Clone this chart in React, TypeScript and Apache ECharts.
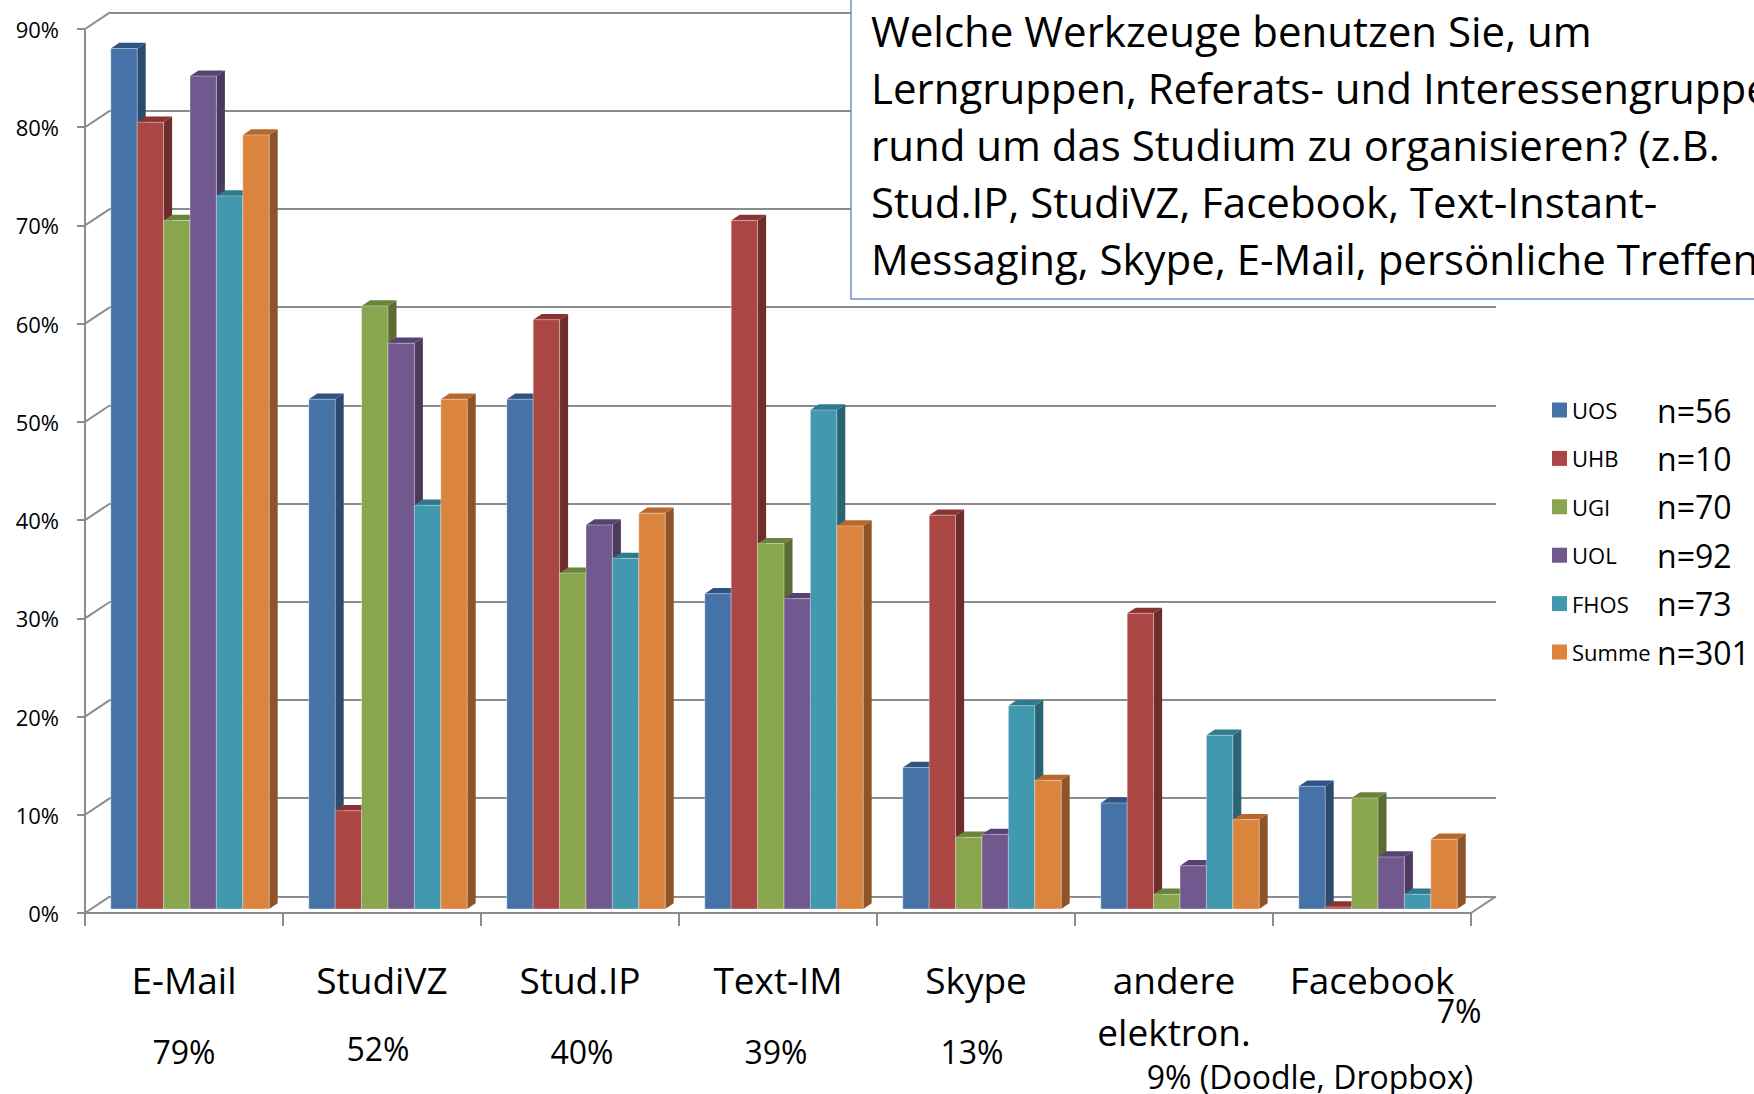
import React, { useEffect, useRef } from "react";
import * as echarts from "echarts";

const categories = ["E-Mail", "StudiVZ", "Stud.IP", "Text-IM", "Skype", "andere\nelektron.", "Facebook"];
const seriesNames = ["UOS", "UHB", "UGI", "UOL", "FHOS", "Summe"];
const sampleSizes = [56, 10, 70, 92, 73, 301];
const uos = [87.6, 51.9, 51.9, 32.1, 14.4, 10.8, 12.5];
const uhb = [80.1, 10.0, 60.0, 70.1, 40.1, 30.1, 0.2];
const ugi = [70.1, 61.4, 34.2, 37.2, 7.3, 1.5, 11.3];
const uol = [84.8, 57.6, 39.1, 31.6, 7.6, 4.4, 5.3];
const fhos = [72.6, 41.1, 35.7, 50.8, 20.7, 17.7, 1.5];
const summe = [78.8, 51.9, 40.3, 39.0, 13.1, 9.1, 7.1];
const allValues = [uos, uhb, ugi, uol, fhos, summe];
const yTicks = [0, 10, 20, 30, 40, 50, 60, 70, 80, 90];
const totalLabels = ["79%", "52%", "40%", "39%", "13%", "9% (Doodle, Dropbox)", "7%"];
const questionLines = [
  "Welche Werkzeuge benutzen Sie, um",
  "Lerngruppen, Referats- und Interessengruppe",
  "rund um das Studium zu organisieren? (z.B.",
  "Stud.IP, StudiVZ, Facebook, Text-Instant-",
  "Messaging, Skype, E-Mail, persönliche Treffen",
];

const colors = ["#4572A7", "#AA4643", "#89A54E", "#71588F", "#4198AF", "#DB843D"];
const topColors = ["#2F5384", "#8A3431", "#6A843A", "#574372", "#2E7A8E", "#B8682C"];
const sideColors = ["#2C4A6E", "#6E2C2B", "#5A6B33", "#4A3A5E", "#2A6373", "#8E5428"];

const FONT = "'Open Sans', 'Noto Sans', sans-serif";
const GRAY = "#8c8c8c";
const FRONT_DX = 6;
const FRONT_DY = -4;
const DX = 8.5;
const DY = -5.7;
const WALL_DX = 25;
const WALL_DY = -16.6;

const labelOffsets = [
  [0, 1051],
  [-4, 1048],
  [2, 1051],
  [-2, 1051],
  [-4, 1051],
  [136, 1076],
  [87, 1010],
];

function makeBarRender(s: number) {
  return (params: any, api: any) => {
    const idx = api.value(0);
    const v = api.value(1);
    const p0 = api.coord([idx, 0]);
    const p1 = api.coord([idx, v]);
    const band = api.size([1, 0])[0];
    const inner = band * 0.8;
    const w = inner / 6;
    const x = p0[0] - inner / 2 + s * w + FRONT_DX;
    const yb = p0[1] + FRONT_DY;
    const yt = p1[1] + FRONT_DY;
    return {
      type: "group",
      children: [
        {
          type: "polygon",
          shape: { points: [[x + w, yt], [x + w + DX, yt + DY], [x + w + DX, yb + DY], [x + w, yb]] },
          style: { fill: sideColors[s] },
        },
        {
          type: "polygon",
          shape: { points: [[x, yt], [x + DX, yt + DY], [x + w + DX, yt + DY], [x + w, yt]] },
          style: { fill: topColors[s] },
        },
        {
          type: "rect",
          shape: { x, y: yt, width: w, height: yb - yt },
          style: { fill: colors[s], stroke: "rgba(255,255,255,0.35)", lineWidth: 1 },
        },
      ],
    };
  };
}

function frameRender(params: any, api: any) {
  const cs = params.coordSys;
  const v = api.value(1);
  const y = api.coord([0, v])[1];
  const children: any[] = [
    {
      type: "line",
      shape: { x1: cs.x, y1: y, x2: cs.x + WALL_DX, y2: y + WALL_DY },
      style: { stroke: GRAY, lineWidth: 2 },
    },
  ];
  if (v === 0) {
    children.push({
      type: "line",
      shape: { x1: cs.x + cs.width, y1: y, x2: cs.x + cs.width + WALL_DX, y2: y + WALL_DY },
      style: { stroke: GRAY, lineWidth: 2 },
    });
  }
  return { type: "group", children };
}

export default function App() {
  const ref = useRef<HTMLDivElement>(null);
  useEffect(() => {
    if (!ref.current) return;
    const chart = echarts.init(ref.current, undefined, { renderer: "svg" });
    const barSeries = allValues.map((vals, s) => ({
      name: seriesNames[s],
      type: "custom",
      xAxisIndex: 0,
      yAxisIndex: 0,
      itemStyle: { color: colors[s] },
      renderItem: makeBarRender(s),
      encode: { x: 0, y: 1 },
      data: vals.map((v, i) => [i, v]),
      z: 3,
    }));
    chart.setOption({
      animation: false,
      backgroundColor: "#ffffff",
      grid: [
        { left: 85, top: 29, width: 1386, height: 884 },
        { left: 85 + WALL_DX, top: 29 + WALL_DY, width: 1386, height: 884 },
      ],
      xAxis: [
        {
          type: "category",
          gridIndex: 0,
          data: categories,
          axisLine: { show: true, lineStyle: { color: GRAY, width: 2 } },
          axisTick: { show: true, length: 13, alignWithLabel: false, interval: 0, lineStyle: { color: GRAY, width: 2 } },
          axisLabel: { interval: 0, fontSize: 37, lineHeight: 52, margin: 40, color: "#000", fontFamily: FONT },
          splitLine: { show: false },
        },
        {
          type: "category",
          gridIndex: 1,
          data: categories,
          show: true,
          axisLine: { show: false },
          axisTick: { show: false },
          axisLabel: { show: false },
          splitLine: { show: false },
        },
      ],
      yAxis: [
        {
          type: "value",
          gridIndex: 0,
          min: 0,
          max: 90,
          interval: 10,
          axisLine: { show: true, lineStyle: { color: GRAY, width: 2 } },
          axisTick: { show: true, length: 8, lineStyle: { color: GRAY, width: 2 } },
          axisLabel: { formatter: "{value}%", fontSize: 22, margin: 26, color: "#000", fontFamily: FONT },
          splitLine: { show: false },
        },
        {
          type: "value",
          gridIndex: 1,
          min: 0,
          max: 90,
          interval: 10,
          show: true,
          axisLine: { show: false },
          axisTick: { show: false },
          axisLabel: { show: false },
          splitLine: { show: true, lineStyle: { color: GRAY, width: 2 } },
        },
      ],
      legend: {
        orient: "vertical",
        left: 1547,
        top: 389,
        itemWidth: 15,
        itemHeight: 15,
        itemGap: 16.4,
        icon: "rect",
        data: seriesNames,
        formatter: (name: string) => {
          const i = seriesNames.indexOf(name);
          return `{a|${name}}{b|n=${sampleSizes[i]}}`;
        },
        textStyle: {
          rich: {
            a: { fontSize: 22, width: 85, lineHeight: 36, verticalAlign: "middle", color: "#000", fontFamily: FONT },
            b: { fontSize: 32, lineHeight: 36, verticalAlign: "middle", color: "#000", fontFamily: FONT },
          },
        },
      },
      series: [
        {
          name: "frame",
          type: "custom",
          xAxisIndex: 0,
          yAxisIndex: 0,
          renderItem: frameRender,
          encode: { x: 0, y: 1 },
          data: yTicks.map((v) => [0, v]),
          z: 1,
          silent: true,
        },
        ...barSeries,
      ],
    });

    const graphics: any[] = [
      {
        type: "rect",
        shape: { x: 851, y: -5, width: 1000, height: 304 },
        style: { fill: "#ffffff", stroke: "#6f93c6", lineWidth: 1.5 },
        z: 10,
      },
      ...questionLines.map((t, i) => ({
        type: "text",
        x: 871,
        y: 30 + i * 57,
        style: { text: t, fontSize: 42, fontFamily: FONT, fill: "#000", verticalAlign: "middle", align: "left" },
        z: 11,
      })),
    ];
    totalLabels.forEach((t, i) => {
      const cx = chart.convertToPixel({ xAxisIndex: 0 }, i) as number;
      graphics.push({
        type: "text",
        x: cx + labelOffsets[i][0],
        y: labelOffsets[i][1],
        style: { text: t, fontSize: 32, fontFamily: FONT, fill: "#000", align: "center", verticalAlign: "middle" },
        z: 11,
      });
    });
    chart.setOption({ graphic: graphics });

    return () => chart.dispose();
  }, []);
  return (
    <div
      ref={ref}
      style={{ position: "absolute", left: 0, top: 0, width: 1754, height: 1094, background: "#fff" }}
    />
  );
}
